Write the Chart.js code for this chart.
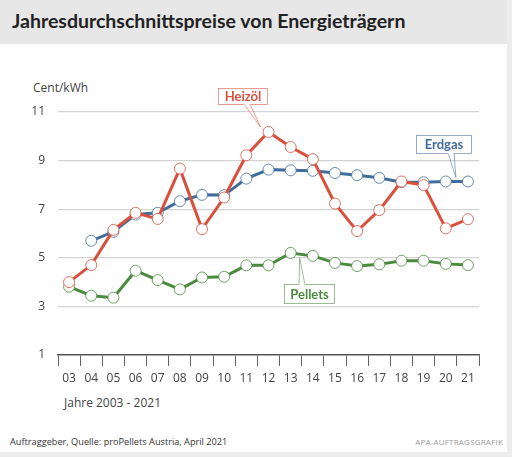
<!DOCTYPE html>
<html>
<head>
<meta charset="utf-8">
<script src="https://cdn.jsdelivr.net/npm/chart.js@4"></script>
<style>
  body { margin: 0; background: #ececec; }
  #karte { position: absolute; left: 0; top: 0; width: 507px; height: 452px; background: #fff; }
  #kopf { position: absolute; left: 0; top: 0; width: 507px; height: 44px; background: #e7e7e7; }
  #titel { position: absolute; left: 12px; top: 9px; font: bold 19.5px Lato, sans-serif; color: #222; white-space: nowrap; }
  #einheit { position: absolute; left: 33px; top: 79px; font: 12px "Open Sans", sans-serif; color: #444; }
  #jahre { position: absolute; left: 64px; top: 394px; font: 12px "Open Sans", sans-serif; color: #444; }
  #quelle { position: absolute; left: 10px; top: 435px; font: 9.2px "Open Sans", sans-serif; color: #333; white-space: nowrap; }
  #apa { position: absolute; right: 9px; top: 436px; font: 8px "Open Sans", sans-serif; color: #999; letter-spacing: 0.2px; }
  #wrap { position: absolute; left: 0; top: 0; width: 512px; height: 457px; }
</style>
</head>
<body>
<div id="karte"></div>
<div id="kopf"></div>
<div id="titel">Jahresdurchschnittspreise von Energieträgern</div>
<div id="einheit">Cent/kWh</div>
<div id="jahre">Jahre 2003 - 2021</div>
<div id="quelle">Auftraggeber, Quelle: proPellets Austria, April 2021</div>
<div id="apa">APA-AUFTRAGSGRAFIK</div>
<div id="wrap"><canvas id="grafico"></canvas></div>
<script>
let jahre = ['03', '04', '05', '06', '07', '08', '09', '10', '11', '12', '13', '14', '15', '16', '17', '18', '19', '20', '21']
let heizoel = [4.0, 4.7, 6.15, 6.85, 6.6, 8.67, 6.18, 7.48, 9.22, 10.18, 9.56, 9.06, 7.23, 6.1, 6.96, 8.14, 7.99, 6.21, 6.59]
let erdgas = [null, 5.7, 6.07, 6.78, 6.85, 7.33, 7.59, 7.58, 8.26, 8.63, 8.6, 8.58, 8.49, 8.4, 8.29, 8.11, 8.11, 8.14, 8.14]
let pellets = [3.81, 3.44, 3.36, 4.47, 4.08, 3.7, 4.19, 4.22, 4.69, 4.69, 5.2, 5.08, 4.79, 4.66, 4.73, 4.88, 4.88, 4.75, 4.7]
let yTicks = [1, 3, 5, 7, 9, 11]

let rot = '#d9503d'
let blau = '#416d9c'
let gruen = '#4b8a3f'

// Beschriftungskästen, an Datenpunkte gehängt (Versatz in Pixel vom Punkt)
let kaesten = [
    { text: 'Heizöl', farbe: rot, ds: 0, idx: 9, dx: -51, dy: -44, w: 50, h: 17, kx: 29, ox: -8, oy: -5 },
    { text: 'Erdgas', farbe: blau, ds: 1, idx: 18, dx: -52, dy: -46, w: 56, h: 19, kx: 35, ox: -12, oy: -4 },
    { text: 'Pellets', farbe: gruen, ds: 2, idx: 10, dx: -7, dy: 31, w: 51, h: 20, kx: 18, ox: 9, oy: 5 }
]

let kastenPlugin = {
    id: 'kaesten',
    afterDatasetsDraw(chart) {
        let ctx = chart.ctx
        kaesten.forEach(k => {
            let p = chart.getDatasetMeta(k.ds).data[k.idx]
            let bx = Math.round(p.x + k.dx)
            let by = Math.round(p.y + k.dy)
            let ky = k.dy < 0 ? by + k.h - 1 : by + 1
            ctx.save()
            ctx.strokeStyle = k.farbe
            ctx.globalAlpha = 0.7
            ctx.lineWidth = 0.8
            ctx.beginPath()
            ctx.moveTo(bx + k.kx - 3, ky)
            ctx.lineTo(p.x + k.ox, p.y + k.oy)
            ctx.lineTo(bx + k.kx + 3, ky)
            ctx.stroke()
            ctx.globalAlpha = 1
            ctx.fillStyle = '#fff'
            ctx.fillRect(bx, by, k.w, k.h)
            ctx.globalAlpha = 0.7
            ctx.strokeRect(bx + 0.5, by + 0.5, k.w - 1, k.h - 1)
            ctx.globalAlpha = 1
            ctx.fillStyle = '#fff'
            ctx.fillRect(bx + k.kx - 2.5, ky - 1.5, 5, 3)
            ctx.fillStyle = k.farbe
            ctx.font = 'bold 13px Lato, sans-serif'
            ctx.textAlign = 'center'
            ctx.textBaseline = 'middle'
            ctx.fillText(k.text, bx + k.w / 2, by + k.h / 2 + 0.5)
            ctx.restore()
        })
    }
}

function serie(label, daten, farbe) {
    return {
        label: label,
        data: daten,
        borderColor: farbe,
        borderWidth: 3,
        pointRadius: 5.5,
        pointBackgroundColor: '#fff',
        pointBorderColor: farbe,
        pointBorderWidth: 0.8,
        tension: 0,
        clip: false
    }
}

let ctx = document.getElementById('grafico').getContext('2d')
new Chart(ctx, {
    type: 'line',
    data: {
        labels: jahre,
        datasets: [
            serie('Heizöl', heizoel, rot),
            serie('Erdgas', erdgas, blau),
            serie('Pellets', pellets, gruen)
        ]
    },
    options: {
        responsive: true,
        maintainAspectRatio: false,
        animation: false,
        devicePixelRatio: 1,
        layout: { padding: { left: 0, right: 33, top: 112, bottom: 0 } },
        plugins: { legend: { display: false }, tooltip: { enabled: false } },
        scales: {
            x: {
                offset: true,
                afterFit(scale) { scale.height = 102 },
                grid: {
                    offset: true,
                    drawOnChartArea: false,
                    drawTicks: true,
                    tickLength: 11,
                    color: '#666',
                    lineWidth: 1
                },
                border: { display: true, color: '#555', width: 1.5 },
                ticks: { color: '#444', font: { family: 'Open Sans', size: 12 }, padding: 5, maxRotation: 0, autoSkip: false }
            },
            y: {
                min: 1,
                max: 11,
                afterFit(scale) { scale.width = 58 },
                afterBuildTicks(scale) { scale.ticks = yTicks.map(v => ({ value: v })) },
                grid: {
                    drawTicks: false,
                    color: c => c.tick && c.tick.value === 1 ? 'rgba(0,0,0,0)' : '#d3d3d3',
                    lineWidth: 1.2
                },
                border: { display: false },
                ticks: { color: '#444', font: { family: 'Open Sans', size: 12 }, padding: 13 }
            }
        }
    },
    plugins: [kastenPlugin]
})
</script>
</body>
</html>
